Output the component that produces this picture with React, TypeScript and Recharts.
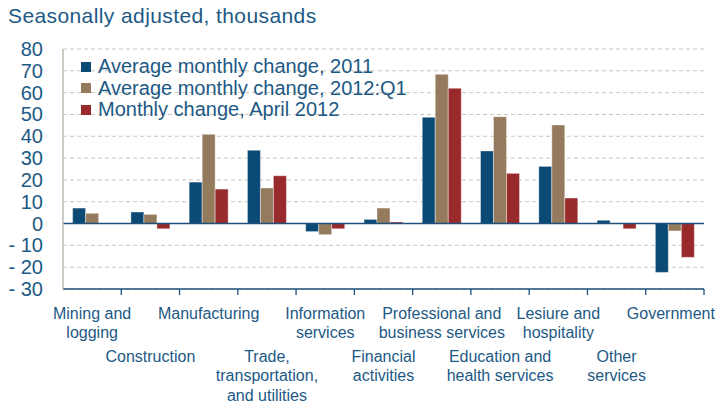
import React from 'react'
import { BarChart, Bar, XAxis, YAxis, CartesianGrid, ReferenceLine } from 'recharts'

const categories = [
  'Mining and\nlogging',
  'Construction',
  'Manufacturing',
  'Trade,\ntransportation,\nand utilities',
  'Information\nservices',
  'Financial\nactivities',
  'Professional and\nbusiness services',
  'Education and\nhealth services',
  'Lesiure and\nhospitality',
  'Other\nservices',
  'Government',
]

const avg2011 = [7.1, 5.3, 19, 33.6, -3.7, 1.9, 48.7, 33.3, 26.2, 1.5, -22.4]
const avg2012Q1 = [4.7, 4.2, 40.9, 16.3, -5.1, 7.1, 68.4, 49, 45.2, 0, -3.4]
const april2012 = [0, -2.4, 15.8, 21.9, -2.4, 0.7, 62, 23, 11.7, -2.4, -15.5]

const yTicks = [-30, -20, -10, 0, 10, 20, 30, 40, 50, 60, 70, 80]

const series = [
  { key: 'a2011', name: 'Average monthly change, 2011', color: '#0c4a76' },
  { key: 'a2012', name: 'Average monthly change, 2012:Q1', color: '#957b5d' },
  { key: 'apr', name: 'Monthly change, April 2012', color: '#982a2c' },
]

const data = categories.map((name, i) => ({
  name,
  a2011: avg2011[i],
  a2012: avg2012Q1[i],
  apr: april2012[i],
}))

const textColor = '#1d5985'
const font = '"Liberation Sans", Arial, sans-serif'

const W = 715
const H = 402
const plotLeft = 63
const plotRight = 11
const band = (W - plotLeft - plotRight) / categories.length

function XTick(props: any) {
  const { x, y, payload, index } = props
  const lines = String(payload.value).split('\n')
  const startY = index % 2 === 0 ? y + 29.5 : y + 72.5
  // keep the last label inside the picture
  const tx = index === categories.length - 1 ? x - 4 : x
  return (
    <g>
      <line x1={x + band / 2} x2={x + band / 2} y1={y} y2={y + 6} stroke="#1f4f7a" strokeWidth={1.3} />
      <text textAnchor="middle" fill={textColor} fontSize={16} fontFamily={font}>
        {lines.map((l, i) => (
          <tspan key={i} x={tx} y={startY + i * 19.5}>{l}</tspan>
        ))}
      </text>
    </g>
  )
}

function YTick(props: any) {
  const { y, payload } = props
  const v = payload.value
  return (
    <text x={43} y={y + 7} textAnchor="end" fill={textColor} fontSize={20} fontFamily={font}>
      {v < 0 ? '- ' + Math.abs(v) : v}
    </text>
  )
}

export default function App() {
  return (
    <div style={{ position: 'absolute', left: 0, top: 0, width: W, height: H, background: '#fff' }}>
      <div style={{ position: 'absolute', left: 8, top: 4, fontFamily: font, fontSize: 21, letterSpacing: 0.4, color: textColor, whiteSpace: 'nowrap' }}>
        Seasonally adjusted, thousands
      </div>
      <BarChart
        width={W}
        height={H}
        data={data}
        margin={{ top: 49, right: plotRight, bottom: 0, left: 0 }}
        barCategoryGap="16.5%"
        barGap={0}
      >
        <CartesianGrid vertical={false} stroke="#c9c5b8" strokeDasharray="4 3" />
        <XAxis
          dataKey="name"
          height={113}
          interval={0}
          tick={<XTick />}
          tickLine={false}
          tickSize={0}
          tickMargin={0}
          axisLine={{ stroke: '#1f4f7a', strokeWidth: 1.5 }}
        />
        <YAxis
          width={plotLeft}
          domain={[-30, 80]}
          ticks={yTicks}
          interval={0}
          tick={<YTick />}
          tickLine={false}
          axisLine={{ stroke: '#b3afa4', strokeWidth: 1.3 }}
        />
        <ReferenceLine y={0} stroke="#1f4f7a" strokeWidth={1.5} />
        {series.map(s => (
          <Bar
            key={s.key}
            dataKey={s.key}
            name={s.name}
            fill={s.color}
            stroke="#ffffff"
            strokeOpacity={0.5}
            strokeWidth={0.8}
            isAnimationActive={false}
          />
        ))}
      </BarChart>
      <div style={{ position: 'absolute', left: 81, top: 56, fontFamily: font, fontSize: 20, color: textColor, lineHeight: '21.6px' }}>
        {series.map(s => (
          <div key={s.key} style={{ display: 'flex', alignItems: 'center', whiteSpace: 'nowrap' }}>
            <span style={{ width: 10, height: 10, background: s.color, display: 'inline-block', marginRight: 7 }} />
            {s.name}
          </div>
        ))}
      </div>
    </div>
  )
}
